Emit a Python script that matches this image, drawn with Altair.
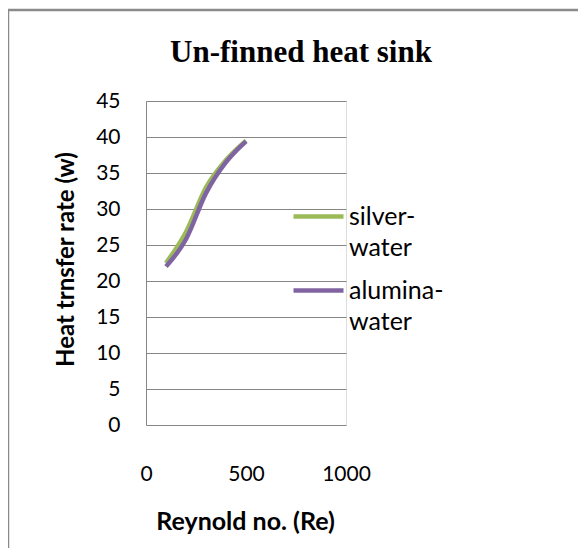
import altair as alt
import pandas as pd

# ---- data ----
reynolds = [100, 200, 300, 400, 500]
silver_water = [22.5, 26.8, 33.0, 36.8, 39.5]
alumina_water = [22.0, 25.8, 32.2, 36.5, 39.4]
series_names = ["silver-water", "alumina-water"]
series_colors = ["#9BBB59", "#8064A2"]
y_ticks = [0, 5, 10, 15, 20, 25, 30, 35, 40, 45]
x_ticks = [0, 500, 1000]

rows = []
for name, vals in zip(series_names, [silver_water, alumina_water]):
    for re_, q in zip(reynolds, vals):
        rows.append({"Re": re_, "Q": q, "series": name})
df = pd.DataFrame(rows)

GRID = "#868686"
SANS = "Lato"

x_enc = alt.X(
    "Re:Q",
    scale=alt.Scale(domain=[0, 1000], nice=False),
    axis=alt.Axis(
        values=x_ticks, format="d", grid=False, domain=False, ticks=False, tickSize=0,
        labelFont=SANS, labelFontSize=21, labelColor="black", labelPadding=38,
        labelFlush=False, labelOverlap=False,
        title="Reynold no. (Re)", titleFont=SANS, titleFontSize=25, titleFontWeight="bold",
        titleColor="black", titleX=99, titleY=104, titleBaseline="alphabetic", titleAlign="center",
    ),
)
y_enc = alt.Y(
    "Q:Q",
    scale=alt.Scale(domain=[0, 45], nice=False),
    axis=alt.Axis(
        values=y_ticks, grid=True, gridColor=GRID, gridWidth=1, gridOpacity=1,
        domainColor=GRID, domainWidth=1, ticks=False, tickSize=0,
        labelFont=SANS, labelFontSize=21, labelColor="black", labelPadding=26,
        title="Heat trnsfer rate (w)", titleFont=SANS, titleFontSize=24, titleFontWeight="bold",
        titleColor="black", titleX=-73, titleY=158, titleBaseline="alphabetic", titleAlign="center",
        titleAngle=270,
    ),
)
color_enc = alt.Color(
    "series:N",
    scale=alt.Scale(domain=series_names, range=series_colors),
    legend=alt.Legend(
        orient="none", legendX=145, legendY=88, title=None, direction="vertical",
        symbolType="stroke", symbolSize=2500, symbolStrokeWidth=4.5,
        labelFont=SANS, labelFontSize=25, labelColor="black", labelOffset=3,
        labelBaseline="middle", labelLimit=300, rowPadding=2, padding=0,
        labelExpr="[slice(datum.label, 0, indexof(datum.label, '-') + 1), slice(datum.label, indexof(datum.label, '-') + 1)]",
    ),
)

border = alt.Chart(alt.Data(values=[{"k": 1}])).mark_rect(
    fill=None, stroke="#8a8a8a", strokeWidth=2.5
).encode(
    x=alt.value(-138), x2=alt.value(1000), y=alt.value(-91), y2=alt.value(1000)
)

layers = [border]
for name in series_names:
    layers.append(
        alt.Chart(df).transform_filter(alt.datum.series == name)
        .mark_line(strokeWidth=4.5, interpolate="monotone")
        .encode(x=x_enc, y=y_enc, color=color_enc)
    )

chart = alt.layer(*layers).properties(
    width=200,
    height=324,
    padding={"left": 138, "top": 93, "right": 232, "bottom": 123},
    autosize=alt.AutoSizeParams(type="none"),
    title=alt.TitleParams(
        "Un-finned heat sink", font="Liberation Serif", fontSize=31, fontWeight="bold",
        color="black", anchor="middle", dx=55, offset=0, dy=84, baseline="alphabetic",
    ),
).configure_view(stroke=None).configure(
    background="white",
    style={"guide-label": {"lineHeight": 31}},
)

chart.save("out.html", embed_options={"renderer": "svg", "actions": False})
